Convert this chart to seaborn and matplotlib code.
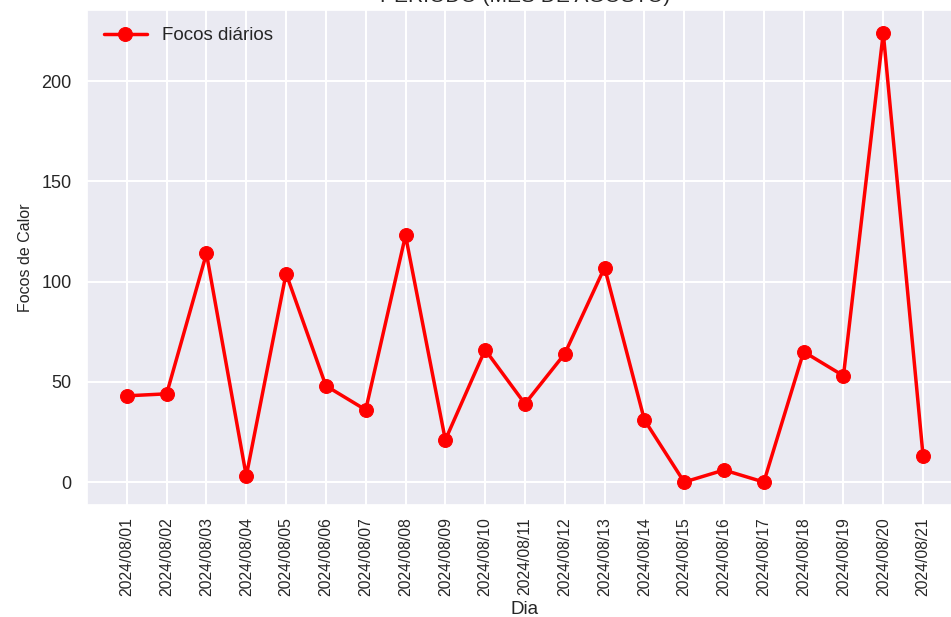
import pandas as pd
import matplotlib.pyplot as plt
import seaborn as sns

dias = ["2024/08/01", "2024/08/02", "2024/08/03", "2024/08/04", "2024/08/05",
        "2024/08/06", "2024/08/07", "2024/08/08", "2024/08/09", "2024/08/10",
        "2024/08/11", "2024/08/12", "2024/08/13", "2024/08/14", "2024/08/15",
        "2024/08/16", "2024/08/17", "2024/08/18", "2024/08/19", "2024/08/20",
        "2024/08/21"]
focos = [43, 44, 114, 3, 104, 48, 36, 123, 21, 66, 39, 64, 107, 31, 0, 6, 0,
         65, 53, 224, 13]

df = pd.DataFrame({"Dia": dias, "Focos": focos})

sns.set_theme(style="darkgrid")
plt.rcParams['font.family'] = ['Liberation Sans', 'DejaVu Sans']
plt.rcParams['grid.linewidth'] = 1.5

fig = plt.figure(figsize=(9.51, 6.17), dpi=100)
ax = fig.add_axes([0.0915, 0.1823, 0.921, 0.8008])

sns.lineplot(data=df, x="Dia", y="Focos", color="#ff0000", marker="o",
             markersize=10, markeredgecolor="#ff0000", linewidth=2.5,
             label="Focos diários", ax=ax)

# o título fica parcialmente cortado no topo, como na referência
ax.set_title("PERÍODO (MÊS DE AGOSTO)", fontsize=15, pad=6)
ax.set_xlabel("Dia", fontsize=13.5, labelpad=3.5)
ax.set_ylabel("Focos de Calor", fontsize=11.5, labelpad=6)
ax.tick_params(axis="x", labelrotation=90, labelsize=11.3, pad=3)
ax.tick_params(axis="y", labelsize=13, pad=5)
ax.set_yticks([0, 50, 100, 150, 200])
ax.legend(loc="upper left", fontsize=13.5, frameon=False, handlelength=2.3)

fig.savefig("out.png", dpi=100)
plt.close(fig)
